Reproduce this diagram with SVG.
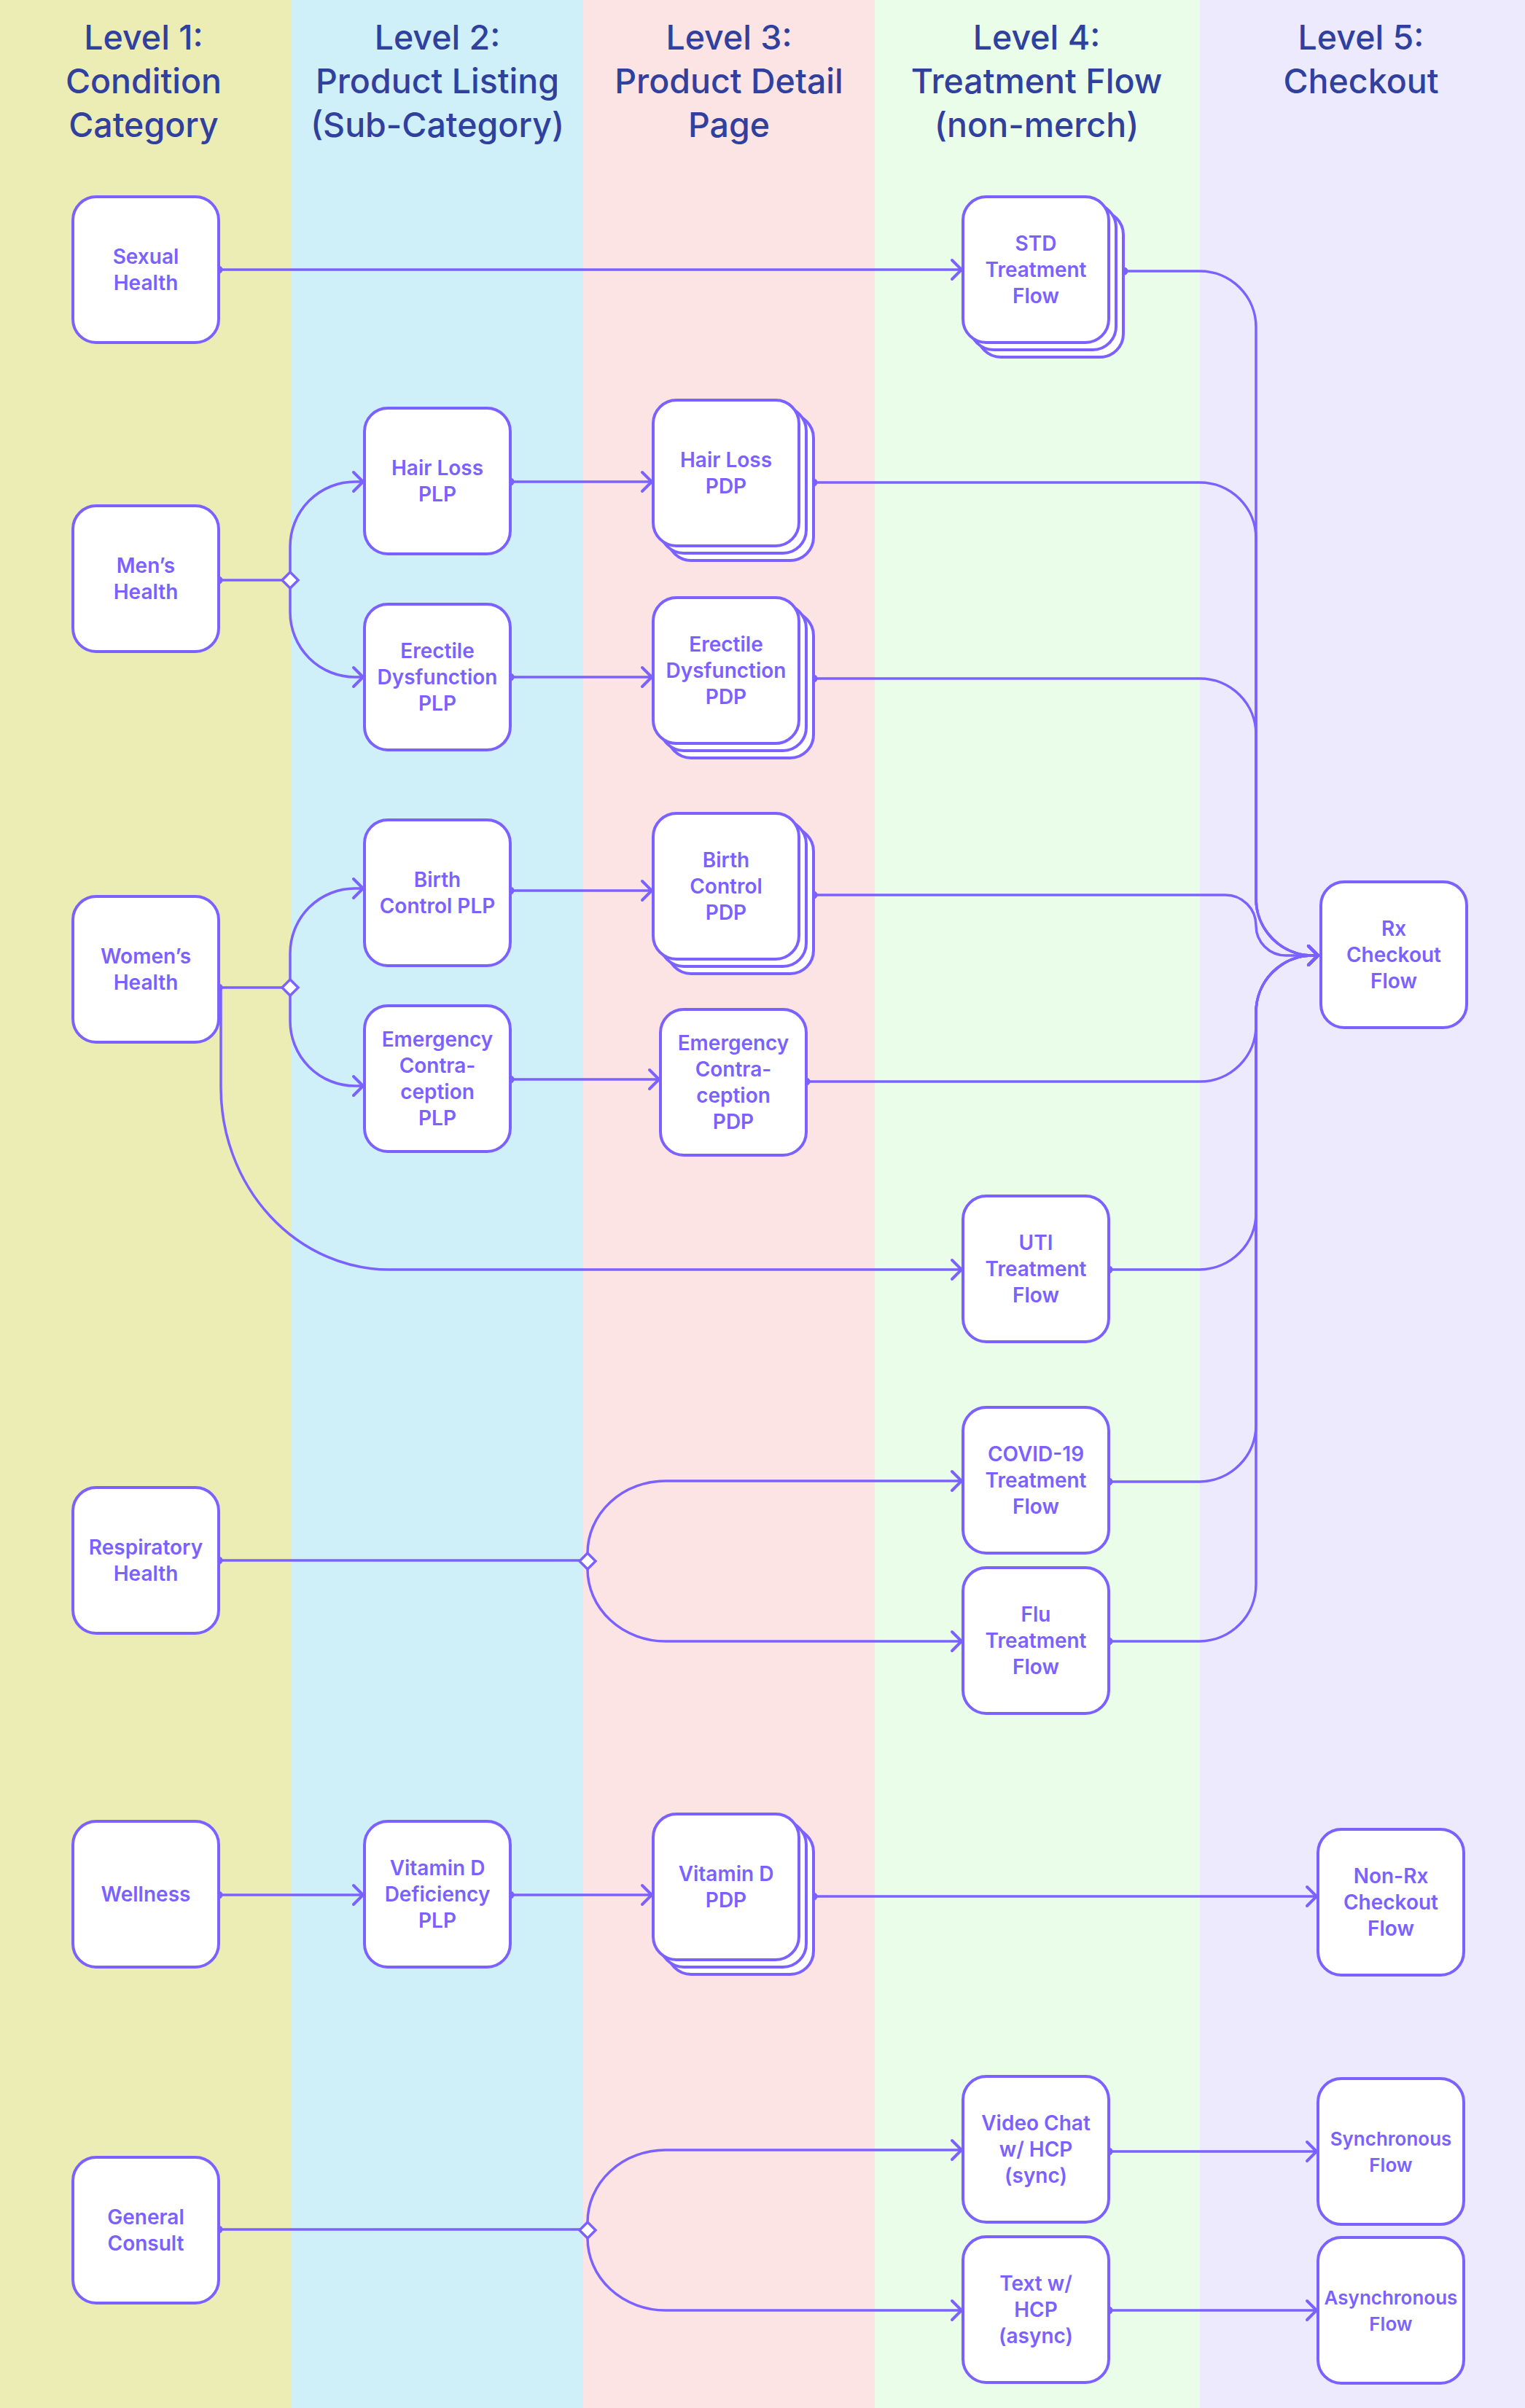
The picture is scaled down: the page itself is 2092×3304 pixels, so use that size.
<svg xmlns="http://www.w3.org/2000/svg" width="2092" height="3304" viewBox="0 0 2092 3304">
<style>
.box{fill:#FFFFFF;stroke:#7B61FF;stroke-width:4}
.lbl{font-family:Inter,"Liberation Sans",sans-serif;font-weight:600;font-size:28px;fill:#7B61FF;text-anchor:middle}
.sm{font-size:26px}
.hdr{font-family:Inter,"Liberation Sans",sans-serif;font-weight:500;font-size:46.5px;fill:#30409E;text-anchor:middle}
.ln{fill:none;stroke:#7B61FF;stroke-width:3.5;stroke-linecap:round;stroke-linejoin:round}
.arr{marker-start:url(#dot);marker-end:url(#arrow)}
.dia{fill:#FFFFFF;stroke:#7B61FF;stroke-width:3.5}
</style>
<defs>
<marker id="arrow" markerUnits="userSpaceOnUse" viewBox="-18 -18 22 36" refX="0" refY="0" markerWidth="22" markerHeight="36" orient="auto">
<path d="M-13,-13 L0,0 L-13,13" fill="none" stroke="#7B61FF" stroke-width="4" stroke-linecap="round" stroke-linejoin="round"/>
</marker>
<marker id="dot" markerUnits="userSpaceOnUse" viewBox="-8 -8 16 16" refX="0" refY="0" markerWidth="16" markerHeight="16">
<circle cx="0" cy="0" r="5.5" fill="#7B61FF"/>
</marker>
</defs>
<g id="lanes">
<rect x="0" y="0" width="400" height="3304" fill="#ECECB5"/>
<rect x="400" y="0" width="400" height="3304" fill="#CFF0F8"/>
<rect x="800" y="0" width="400" height="3304" fill="#FCE4E4"/>
<rect x="1200" y="0" width="446" height="3304" fill="#EAFDE8"/>
<rect x="1646" y="0" width="446" height="3304" fill="#EEEAFE"/>
<text class="hdr" x="197" y="68">Level 1:</text>
<text class="hdr" x="197" y="128">Condition</text>
<text class="hdr" x="197" y="188">Category</text>
<text class="hdr" x="600" y="68">Level 2:</text>
<text class="hdr" x="600" y="128">Product Listing</text>
<text class="hdr" x="600" y="188">(Sub-Category)</text>
<text class="hdr" x="1000" y="68">Level 3:</text>
<text class="hdr" x="1000" y="128">Product Detail</text>
<text class="hdr" x="1000" y="188">Page</text>
<text class="hdr" x="1422" y="68">Level 4:</text>
<text class="hdr" x="1422" y="128">Treatment Flow</text>
<text class="hdr" x="1422" y="188">(non-merch)</text>
<text class="hdr" x="1867" y="68">Level 5:</text>
<text class="hdr" x="1867" y="128">Checkout</text>
</g>
<g id="connectors">
<path class="ln arr" d="M300,370 H1319"/>
<path class="ln" d="M300,796 H387" marker-start="url(#dot)"/>
<path class="ln" d="M398,785 V750 A89,89 0 0 1 487,661 H498" marker-end="url(#arrow)"/>
<path class="ln" d="M398,807 V840 A89,89 0 0 0 487,929 H498" marker-end="url(#arrow)"/>
<path class="ln" d="M300,1355 H387" marker-start="url(#dot)"/>
<path class="ln" d="M398,1344 V1308 A89,89 0 0 1 487,1219 H498" marker-end="url(#arrow)"/>
<path class="ln" d="M398,1366 V1401 A89,89 0 0 0 487,1490 H498" marker-end="url(#arrow)"/>
<path class="ln" d="M303,1355 V1492 A231,250 0 0 0 534,1742 H1319" marker-end="url(#arrow)"/>
<path class="ln arr" d="M700,661 H894"/>
<path class="ln arr" d="M700,929 H894"/>
<path class="ln arr" d="M700,1222 H894"/>
<path class="ln arr" d="M700,1481 H904"/>
<path class="ln arr" d="M1542,372 H1646 A77,77 0 0 1 1723,449 V1233 A78,78 0 0 0 1801,1311 H1808"/>
<path class="ln arr" d="M1116,662 H1646 A77,77 0 0 1 1723,739 V1233 A78,78 0 0 0 1801,1311 H1808"/>
<path class="ln arr" d="M1116,931 H1646 A77,77 0 0 1 1723,1008 V1233 A78,78 0 0 0 1801,1311 H1808"/>
<path class="ln arr" d="M1116,1228 H1681 A42,42 0 0 1 1723,1270 A41,41 0 0 0 1764,1311 H1808"/>
<path class="ln arr" d="M1106,1484 H1646 A77,77 0 0 0 1723,1407 V1389 A78,78 0 0 1 1801,1311 H1808"/>
<path class="ln arr" d="M1521,1742 H1646 A78,78 0 0 0 1723,1664 V1389 A78,78 0 0 1 1801,1311 H1808"/>
<path class="ln arr" d="M1521,2033 H1646 A78,78 0 0 0 1723,1955 V1389 A78,78 0 0 1 1801,1311 H1808"/>
<path class="ln arr" d="M1521,2252 H1646 A78,78 0 0 0 1723,2174 V1389 A78,78 0 0 1 1801,1311 H1808"/>
<path class="ln" d="M300,2141 H795" marker-start="url(#dot)"/>
<path class="ln" d="M806,2131 A107,99 0 0 1 913,2032 H1319" marker-end="url(#arrow)"/>
<path class="ln" d="M806,2153 A107,99 0 0 0 913,2252 H1319" marker-end="url(#arrow)"/>
<path class="ln arr" d="M300,2600 H498"/>
<path class="ln arr" d="M700,2600 H894"/>
<path class="ln arr" d="M1116,2602 H1806"/>
<path class="ln" d="M300,3059 H795" marker-start="url(#dot)"/>
<path class="ln" d="M806,3049 A107,99 0 0 1 913,2950 H1319" marker-end="url(#arrow)"/>
<path class="ln" d="M806,3071 A107,99 0 0 0 913,3170 H1319" marker-end="url(#arrow)"/>
<path class="ln arr" d="M1521,2952 H1806"/>
<path class="ln arr" d="M1521,3170 H1806"/>
<path class="dia" d="M398,785 L409,796 L398,807 L387,796 Z"/>
<path class="dia" d="M398,1344 L409,1355 L398,1366 L387,1355 Z"/>
<path class="dia" d="M806,2131 L817,2142 L806,2153 L795,2142 Z"/>
<path class="dia" d="M806,3049 L817,3060 L806,3071 L795,3060 Z"/>
</g>
<g id="sexual-health"><rect class="box" x="100" y="270" width="200" height="200" rx="32"/>
<text class="lbl" x="200" y="362">Sexual</text><text class="lbl" x="200" y="398">Health</text></g>
<g id="std-flow"><rect class="box" x="1341" y="290" width="200" height="200" rx="32"/><rect class="box" x="1331" y="280" width="200" height="200" rx="32"/><rect class="box" x="1321" y="270" width="200" height="200" rx="32"/>
<text class="lbl" x="1421" y="344">STD</text><text class="lbl" x="1421" y="380">Treatment</text><text class="lbl" x="1421" y="416">Flow</text></g>
<g id="mens-health"><rect class="box" x="100" y="694" width="200" height="200" rx="32"/>
<text class="lbl" x="200" y="786">Men’s</text><text class="lbl" x="200" y="822">Health</text></g>
<g id="hair-loss-plp"><rect class="box" x="500" y="560" width="200" height="200" rx="32"/>
<text class="lbl" x="600" y="652">Hair Loss</text><text class="lbl" x="600" y="688">PLP</text></g>
<g id="hair-loss-pdp"><rect class="box" x="916" y="569" width="200" height="200" rx="32"/><rect class="box" x="906" y="559" width="200" height="200" rx="32"/><rect class="box" x="896" y="549" width="200" height="200" rx="32"/>
<text class="lbl" x="996" y="641">Hair Loss</text><text class="lbl" x="996" y="677">PDP</text></g>
<g id="ed-plp"><rect class="box" x="500" y="829" width="200" height="200" rx="32"/>
<text class="lbl" x="600" y="903">Erectile</text><text class="lbl" x="600" y="939">Dysfunction</text><text class="lbl" x="600" y="975">PLP</text></g>
<g id="ed-pdp"><rect class="box" x="916" y="840" width="200" height="200" rx="32"/><rect class="box" x="906" y="830" width="200" height="200" rx="32"/><rect class="box" x="896" y="820" width="200" height="200" rx="32"/>
<text class="lbl" x="996" y="894">Erectile</text><text class="lbl" x="996" y="930">Dysfunction</text><text class="lbl" x="996" y="966">PDP</text></g>
<g id="womens-health"><rect class="box" x="100" y="1230" width="200" height="200" rx="32"/>
<text class="lbl" x="200" y="1322">Women’s</text><text class="lbl" x="200" y="1358">Health</text></g>
<g id="bc-plp"><rect class="box" x="500" y="1125" width="200" height="200" rx="32"/>
<text class="lbl" x="600" y="1217">Birth</text><text class="lbl" x="600" y="1253">Control PLP</text></g>
<g id="bc-pdp"><rect class="box" x="916" y="1136" width="200" height="200" rx="32"/><rect class="box" x="906" y="1126" width="200" height="200" rx="32"/><rect class="box" x="896" y="1116" width="200" height="200" rx="32"/>
<text class="lbl" x="996" y="1190">Birth</text><text class="lbl" x="996" y="1226">Control</text><text class="lbl" x="996" y="1262">PDP</text></g>
<g id="ec-plp"><rect class="box" x="500" y="1380" width="200" height="200" rx="32"/>
<text class="lbl" x="600" y="1436">Emergency</text><text class="lbl" x="600" y="1472">Contra-</text><text class="lbl" x="600" y="1508">ception</text><text class="lbl" x="600" y="1544">PLP</text></g>
<g id="ec-pdp"><rect class="box" x="906" y="1385" width="200" height="200" rx="32"/>
<text class="lbl" x="1006" y="1441">Emergency</text><text class="lbl" x="1006" y="1477">Contra-</text><text class="lbl" x="1006" y="1513">ception</text><text class="lbl" x="1006" y="1549">PDP</text></g>
<g id="uti-flow"><rect class="box" x="1321" y="1641" width="200" height="200" rx="32"/>
<text class="lbl" x="1421" y="1715">UTI</text><text class="lbl" x="1421" y="1751">Treatment</text><text class="lbl" x="1421" y="1787">Flow</text></g>
<g id="covid-flow"><rect class="box" x="1321" y="1931" width="200" height="200" rx="32"/>
<text class="lbl" x="1421" y="2005">COVID-19</text><text class="lbl" x="1421" y="2041">Treatment</text><text class="lbl" x="1421" y="2077">Flow</text></g>
<g id="flu-flow"><rect class="box" x="1321" y="2151" width="200" height="200" rx="32"/>
<text class="lbl" x="1421" y="2225">Flu</text><text class="lbl" x="1421" y="2261">Treatment</text><text class="lbl" x="1421" y="2297">Flow</text></g>
<g id="respiratory-health"><rect class="box" x="100" y="2041" width="200" height="200" rx="32"/>
<text class="lbl" x="200" y="2133">Respiratory</text><text class="lbl" x="200" y="2169">Health</text></g>
<g id="rx-checkout"><rect class="box" x="1812" y="1210" width="200" height="200" rx="32"/>
<text class="lbl" x="1912" y="1284">Rx</text><text class="lbl" x="1912" y="1320">Checkout</text><text class="lbl" x="1912" y="1356">Flow</text></g>
<g id="wellness"><rect class="box" x="100" y="2499" width="200" height="200" rx="32"/>
<text class="lbl" x="200" y="2609">Wellness</text></g>
<g id="vitd-plp"><rect class="box" x="500" y="2499" width="200" height="200" rx="32"/>
<text class="lbl" x="600" y="2573">Vitamin D</text><text class="lbl" x="600" y="2609">Deficiency</text><text class="lbl" x="600" y="2645">PLP</text></g>
<g id="vitd-pdp"><rect class="box" x="916" y="2509" width="200" height="200" rx="32"/><rect class="box" x="906" y="2499" width="200" height="200" rx="32"/><rect class="box" x="896" y="2489" width="200" height="200" rx="32"/>
<text class="lbl" x="996" y="2581">Vitamin D</text><text class="lbl" x="996" y="2617">PDP</text></g>
<g id="non-rx-checkout"><rect class="box" x="1808" y="2510" width="200" height="200" rx="32"/>
<text class="lbl" x="1908" y="2584">Non-Rx</text><text class="lbl" x="1908" y="2620">Checkout</text><text class="lbl" x="1908" y="2656">Flow</text></g>
<g id="general-consult"><rect class="box" x="100" y="2960" width="200" height="200" rx="32"/>
<text class="lbl" x="200" y="3052">General</text><text class="lbl" x="200" y="3088">Consult</text></g>
<g id="video-chat"><rect class="box" x="1321" y="2849" width="200" height="200" rx="32"/>
<text class="lbl" x="1421" y="2923">Video Chat</text><text class="lbl" x="1421" y="2959">w/ HCP</text><text class="lbl" x="1421" y="2995">(sync)</text></g>
<g id="text-hcp"><rect class="box" x="1321" y="3069" width="200" height="200" rx="32"/>
<text class="lbl" x="1421" y="3143">Text w/</text><text class="lbl" x="1421" y="3179">HCP</text><text class="lbl" x="1421" y="3215">(async)</text></g>
<g id="synchronous-flow"><rect class="box" x="1808" y="2852" width="200" height="200" rx="32"/>
<text class="lbl sm" x="1908" y="2944">Synchronous</text><text class="lbl sm" x="1908" y="2980">Flow</text></g>
<g id="asynchronous-flow"><rect class="box" x="1808" y="3070" width="200" height="200" rx="32"/>
<text class="lbl sm" x="1908" y="3162">Asynchronous</text><text class="lbl sm" x="1908" y="3198">Flow</text></g>
</svg>
